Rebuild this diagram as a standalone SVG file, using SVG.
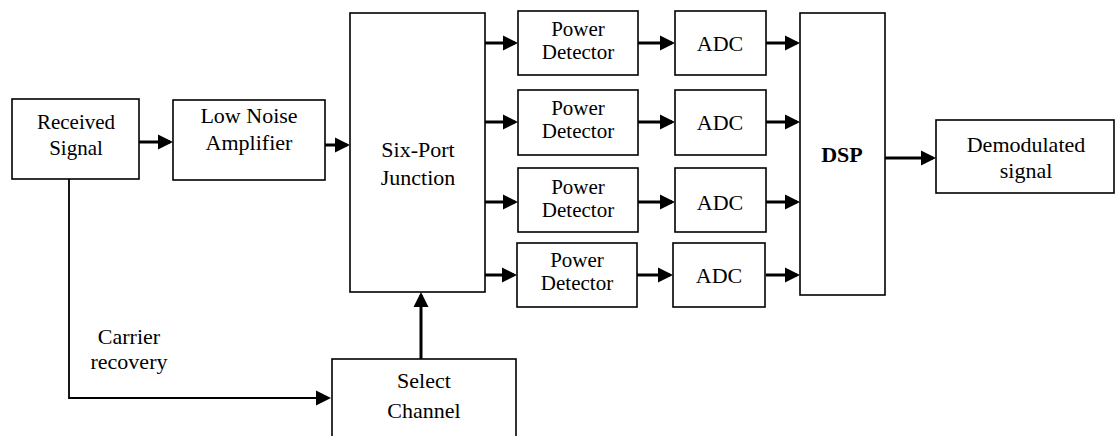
<svg xmlns="http://www.w3.org/2000/svg" width="1116" height="436" viewBox="0 0 1116 436">
  <style>
    .box { fill: #ffffff; stroke: #000000; stroke-width: 1.6; }
    .lbl { font-family: "Liberation Serif", "Times New Roman", serif; font-size: 22px; fill: #000000; text-anchor: middle; }
    .sm { font-size: 21px; }
    .bold { font-weight: bold; }
    .wire { fill: none; stroke: #000000; stroke-width: 3; }
    .thin { fill: none; stroke: #000000; stroke-width: 1.8; }
  </style>
  <defs>
    <marker id="arrow" markerUnits="userSpaceOnUse" markerWidth="15" markerHeight="16" refX="12" refY="8" orient="auto">
      <path d="M0,0.5 L15,8 L0,15.5 z" fill="#000000"/>
    </marker>
  </defs>

  <rect width="1116" height="436" fill="#ffffff"/>

  <!-- signal flow connectors -->
  <g id="connectors">
    <path class="wire" d="M139,142 H170" marker-end="url(#arrow)"/>
    <path class="wire" d="M325,145 H347" marker-end="url(#arrow)"/>

    <path class="wire" d="M485,43 H515" marker-end="url(#arrow)"/>
    <path class="wire" d="M485,122 H515" marker-end="url(#arrow)"/>
    <path class="wire" d="M485,202 H515" marker-end="url(#arrow)"/>
    <path class="wire" d="M485,275 H514" marker-end="url(#arrow)"/>

    <path class="wire" d="M638,43 H672" marker-end="url(#arrow)"/>
    <path class="wire" d="M638,122 H672" marker-end="url(#arrow)"/>
    <path class="wire" d="M638,202 H672" marker-end="url(#arrow)"/>
    <path class="wire" d="M637,275 H670" marker-end="url(#arrow)"/>

    <path class="wire" d="M766,43 H797" marker-end="url(#arrow)"/>
    <path class="wire" d="M766,122 H797" marker-end="url(#arrow)"/>
    <path class="wire" d="M766,202 H797" marker-end="url(#arrow)"/>
    <path class="wire" d="M766,275 H797" marker-end="url(#arrow)"/>

    <path class="wire" d="M885,158 H933" marker-end="url(#arrow)"/>

    <path class="thin" d="M69,179 V398 H328" marker-end="url(#arrow)"/>
    <path class="wire" d="M421,359 V295" marker-end="url(#arrow)"/>
  </g>

  <g id="received-signal">
    <rect class="box" x="12" y="99" width="127" height="80"/>
    <text class="lbl sm" x="76" y="129">Received</text>
    <text class="lbl sm" x="76" y="155">Signal</text>
  </g>

  <g id="lna">
    <rect class="box" x="173" y="100" width="152" height="80"/>
    <text class="lbl" x="249" y="123">Low Noise</text>
    <text class="lbl" x="249" y="150">Amplifier</text>
  </g>

  <g id="six-port">
    <rect class="box" x="350" y="13" width="135" height="279"/>
    <text class="lbl" x="418" y="157">Six-Port</text>
    <text class="lbl" x="418" y="185">Junction</text>
  </g>

  <g id="pd1">
    <rect class="box" x="518" y="11" width="120" height="64"/>
    <text class="lbl sm" x="578" y="36">Power</text>
    <text class="lbl sm" x="578" y="59">Detector</text>
  </g>
  <g id="pd2">
    <rect class="box" x="518" y="90" width="120" height="65"/>
    <text class="lbl sm" x="578" y="115">Power</text>
    <text class="lbl sm" x="578" y="138">Detector</text>
  </g>
  <g id="pd3">
    <rect class="box" x="518" y="168" width="120" height="64"/>
    <text class="lbl sm" x="578" y="194">Power</text>
    <text class="lbl sm" x="578" y="217">Detector</text>
  </g>
  <g id="pd4">
    <rect class="box" x="517" y="243" width="120" height="64"/>
    <text class="lbl sm" x="577" y="267">Power</text>
    <text class="lbl sm" x="577" y="290">Detector</text>
  </g>

  <g id="adc1">
    <rect class="box" x="675" y="11" width="91" height="64"/>
    <text class="lbl" x="720" y="51">ADC</text>
  </g>
  <g id="adc2">
    <rect class="box" x="675" y="90" width="91" height="65"/>
    <text class="lbl" x="720" y="130">ADC</text>
  </g>
  <g id="adc3">
    <rect class="box" x="675" y="168" width="91" height="64"/>
    <text class="lbl" x="720" y="210">ADC</text>
  </g>
  <g id="adc4">
    <rect class="box" x="673" y="243" width="92" height="64"/>
    <text class="lbl" x="719" y="283">ADC</text>
  </g>

  <g id="dsp">
    <rect class="box" x="800" y="13" width="85" height="282"/>
    <text class="lbl bold" x="842" y="162">DSP</text>
  </g>

  <g id="demodulated">
    <rect class="box" x="936" y="120" width="178" height="73"/>
    <text class="lbl" x="1026" y="152">Demodulated</text>
    <text class="lbl" x="1026" y="178">signal</text>
  </g>

  <g id="carrier-label">
    <text class="lbl" x="129" y="344">Carrier</text>
    <text class="lbl" x="129" y="369">recovery</text>
  </g>

  <g id="select-channel">
    <rect class="box" x="332" y="359" width="184" height="95"/>
    <text class="lbl" x="424" y="388">Select</text>
    <text class="lbl" x="424" y="418">Channel</text>
  </g>
</svg>
